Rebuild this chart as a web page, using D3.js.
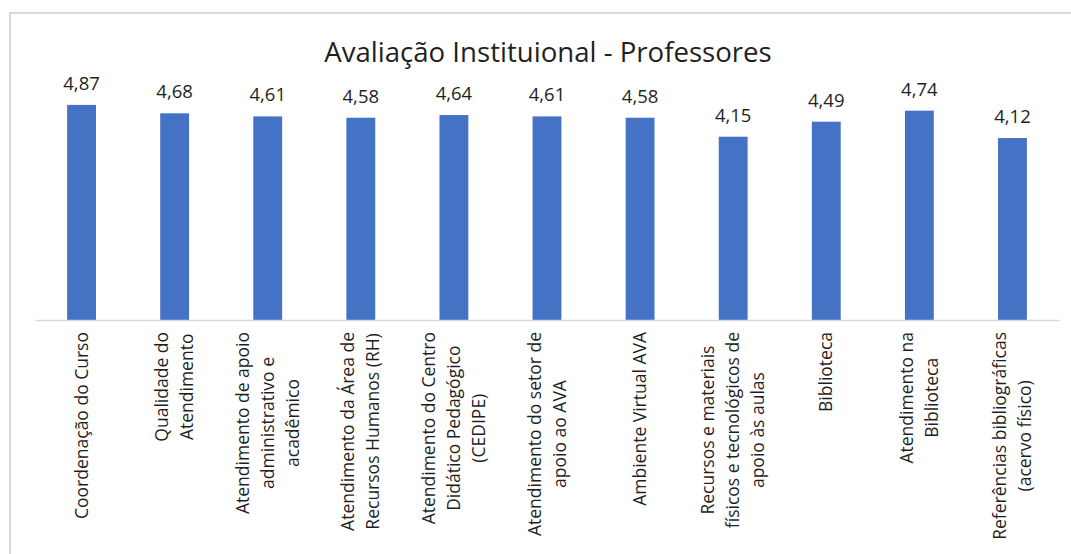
<!DOCTYPE html>
<html>
<head>
<meta charset="utf-8">
<script src="https://cdn.jsdelivr.net/npm/d3@7"></script>
<style>
  html, body { margin: 0; padding: 0; background: #fff; }
  svg { display: block; }
</style>
</head>
<body>
<svg id="chart" width="1071" height="554"></svg>
<script>
const title = "Avaliação Instituional - Professores";
const categories = [
  ["Coordenação do Curso"],
  ["Qualidade do", "Atendimento"],
  ["Atendimento de apoio", "administrativo e", "acadêmico"],
  ["Atendimento da Área de", "Recursos Humanos (RH)"],
  ["Atendimento do Centro", "Didático Pedagógico", "(CEDIPE)"],
  ["Atendimento do setor de", "apoio ao AVA"],
  ["Ambiente Virtual AVA"],
  ["Recursos e materiais", "físicos e tecnológicos de", "apoio às aulas"],
  ["Biblioteca"],
  ["Atendimento na", "Biblioteca"],
  ["Referências bibliográficas", "(acervo físico)"]
];
const values = [4.87, 4.68, 4.61, 4.58, 4.64, 4.61, 4.58, 4.15, 4.49, 4.74, 4.12];

const svg = d3.select("#chart");
const fontFam = "'Open Sans', 'Noto Sans', sans-serif";
const textColor = "#1f1f1f";

// outer chart border (cut off at right/bottom like the reference)
svg.append("rect")
  .attr("x", 10).attr("y", 13)
  .attr("width", 1080).attr("height", 600)
  .attr("fill", "#fff")
  .attr("stroke", "#d9d9d9").attr("stroke-width", 2);

const keys = categories.map((c, i) => "c" + i);
const x = d3.scaleBand().domain(keys).range([35, 1059]).paddingInner(0.69).paddingOuter(0.345);
const y = d3.scaleLinear().domain([0, 6]).range([320, 55]);

const loc = d3.formatLocale({decimal: ",", thousands: ".", grouping: [3], currency: ["R$", ""]});
const fmt = loc.format(".2f");

// title
svg.append("text")
  .attr("x", 548).attr("y", 62)
  .attr("text-anchor", "middle")
  .attr("font-family", fontFam)
  .attr("font-size", 27.6)
  .attr("fill", textColor)
  .text(title);

// bars
svg.append("g").selectAll("rect")
  .data(values)
  .join("rect")
  .attr("x", (d, i) => x(keys[i]))
  .attr("y", d => y(d))
  .attr("width", x.bandwidth())
  .attr("height", d => y(0) - y(d))
  .attr("fill", "#4472C4");

// value labels
svg.append("g").selectAll("text")
  .data(values)
  .join("text")
  .attr("x", (d, i) => x(keys[i]) + x.bandwidth() / 2)
  .attr("y", d => y(d) - 15)
  .attr("text-anchor", "middle")
  .attr("font-family", fontFam)
  .attr("font-size", 18.5)
  .attr("fill", textColor)
  .text(d => fmt(d));

// x axis
const xAxis = d3.axisBottom(x).tickSize(0).tickFormat("");
const gx = svg.append("g").attr("transform", `translate(0,${y(0)})`).call(xAxis);
gx.select(".domain").attr("stroke", "#d9d9d9").attr("stroke-width", 1.5);

// category labels (rotated, multi-line, block centered on bar)
const lineH = 25;
const topY = 332;
const labelSize = 17.5;
const gl = svg.append("g");
categories.forEach((lines, i) => {
  const cx = x(keys[i]) + x.bandwidth() / 2;
  const n = lines.length;
  const grp = gl.append("g");
  const texts = lines.map((ln, j) => grp.append("text")
    .attr("font-family", fontFam)
    .attr("font-size", labelSize)
    .attr("fill", textColor)
    .attr("text-anchor", "middle")
    .attr("dy", "0.35em")
    .text(ln));
  const maxLen = d3.max(texts, t => t.node().getComputedTextLength());
  const cy = topY + maxLen / 2;
  texts.forEach((t, j) => {
    const off = (j - (n - 1) / 2) * lineH;
    t.attr("transform", `translate(${cx + off},${cy}) rotate(-90)`);
  });
});
</script>
</body>
</html>
